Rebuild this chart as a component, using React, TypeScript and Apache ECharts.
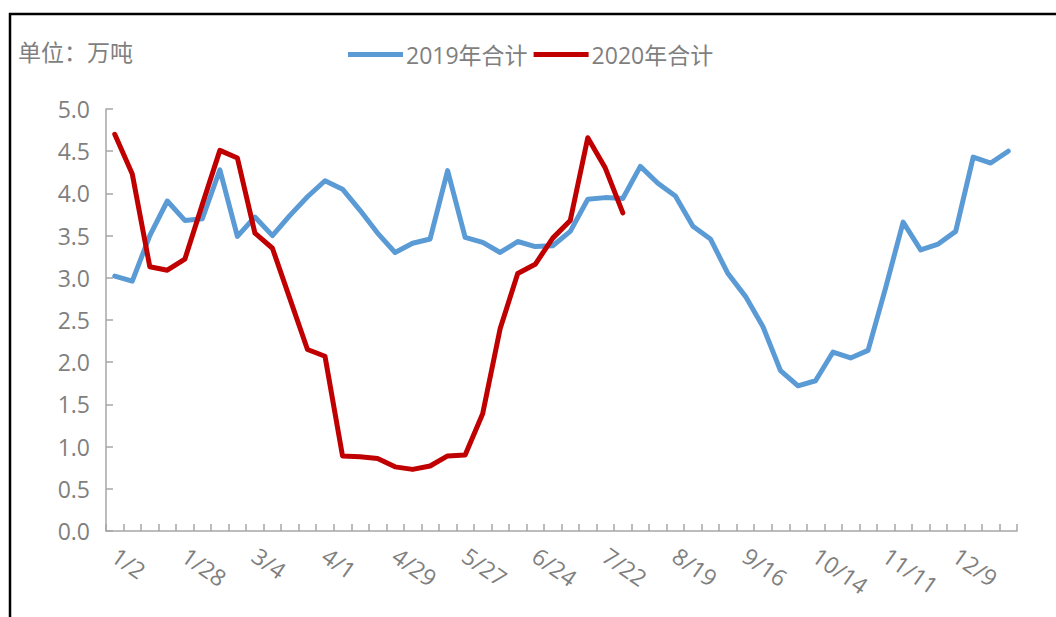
import React, { useEffect, useRef } from "react";
import * as echarts from "echarts";

const categories = [
  "1/2", "1/7", "1/14", "1/21", "1/28", "2/11", "2/18", "2/25", "3/4", "3/11",
  "3/18", "3/25", "4/1", "4/8", "4/15", "4/22", "4/29", "5/6", "5/13", "5/20",
  "5/27", "6/3", "6/10", "6/17", "6/24", "7/1", "7/8", "7/15", "7/22", "7/29",
  "8/5", "8/12", "8/19", "8/26", "9/2", "9/9", "9/16", "9/23", "9/30", "10/7",
  "10/14", "10/21", "10/28", "11/4", "11/11", "11/18", "11/25", "12/2", "12/9", "12/16",
  "12/23", "12/30",
];

const series2019 = [
  3.02, 2.96, 3.5, 3.91, 3.68, 3.7, 4.28, 3.49, 3.72, 3.5,
  3.74, 3.96, 4.15, 4.05, 3.8, 3.53, 3.3, 3.41, 3.46, 4.27,
  3.48, 3.42, 3.3, 3.43, 3.37, 3.38, 3.55, 3.93, 3.95, 3.94,
  4.32, 4.12, 3.97, 3.61, 3.46, 3.05, 2.78, 2.42, 1.9, 1.72,
  1.78, 2.12, 2.05, 2.14, 2.88, 3.66, 3.33, 3.4, 3.55, 4.43,
  4.36, 4.5,
];

const series2020 = [
  4.7, 4.23, 3.13, 3.09, 3.22, 3.87, 4.51, 4.42, 3.53, 3.35,
  2.75, 2.15, 2.07, 0.89, 0.88, 0.86, 0.76, 0.73, 0.77, 0.89,
  0.9, 1.39, 2.4, 3.05, 3.16, 3.47, 3.68, 4.66, 4.3, 3.77,
];

const seriesNames = ["2019年合计", "2020年合计"];
const unitLabel = "单位：万吨";

const FONT = "'Open Sans', 'Noto Sans CJK SC', sans-serif";
const GREY = "#7f7f7f";

export default function App() {
  const ref = useRef<HTMLDivElement>(null);
  useEffect(() => {
    if (!ref.current) return;
    const chart = echarts.init(ref.current, undefined, { renderer: "svg" });
    chart.setOption({
      animation: false,
      backgroundColor: "#ffffff",
      textStyle: { fontFamily: FONT },
      grid: { left: 106, right: 39, top: 109, bottom: 86, containLabel: false },
      legend: {
        top: 38,
        left: 343,
        icon: "rect",
        itemWidth: 55,
        itemHeight: 5,
        itemGap: 6,
        textStyle: { fontSize: 23, color: GREY, fontFamily: FONT, padding: [0, 0, 0, -2] },
        data: seriesNames,
      },
      graphic: [
        {
          type: "rect",
          shape: { x: 10, y: 14, width: 1060, height: 620 },
          style: { fill: "none", stroke: "#000", lineWidth: 2.5 },
          silent: true,
        },
        {
          type: "text",
          left: 18,
          top: 40,
          style: { text: unitLabel, fontSize: 23, fill: GREY, fontFamily: FONT },
        },
      ],
      xAxis: {
        type: "category",
        data: categories,
        boundaryGap: true,
        axisLine: { lineStyle: { color: "#a6a6a6", width: 1.5 } },
        axisTick: { show: true, inside: true, interval: 0, length: 7, lineStyle: { color: "#a6a6a6", width: 1.5 } },
        axisLabel: {
          interval: 3,
          rotate: -35,
          color: GREY,
          fontSize: 23,
          fontFamily: FONT,
          margin: 22,
        },
        splitLine: { show: false },
      },
      yAxis: {
        type: "value",
        min: 0,
        max: 5,
        interval: 0.5,
        axisLine: { show: true, lineStyle: { color: "#a6a6a6", width: 1.5 } },
        axisTick: { show: true, inside: true, length: 7, lineStyle: { color: "#a6a6a6", width: 1.5 } },
        axisLabel: {
          color: GREY,
          fontSize: 23,
          fontFamily: FONT,
          margin: 16,
          formatter: (v: number) => v.toFixed(1),
        },
        splitLine: { show: false },
      },
      series: [
        {
          name: seriesNames[0],
          type: "line",
          data: series2019,
          symbol: "none",
          lineStyle: { color: "#5b9bd5", width: 5, cap: "round", join: "round" },
          itemStyle: { color: "#5b9bd5" },
        },
        {
          name: seriesNames[1],
          type: "line",
          data: series2020,
          symbol: "none",
          lineStyle: { color: "#c00000", width: 5, cap: "round", join: "round" },
          itemStyle: { color: "#c00000" },
        },
      ],
    });
    return () => chart.dispose();
  }, []);
  return (
    <div
      ref={ref}
      style={{ position: "absolute", left: 0, top: 0, width: 1056, height: 617 }}
    />
  );
}
